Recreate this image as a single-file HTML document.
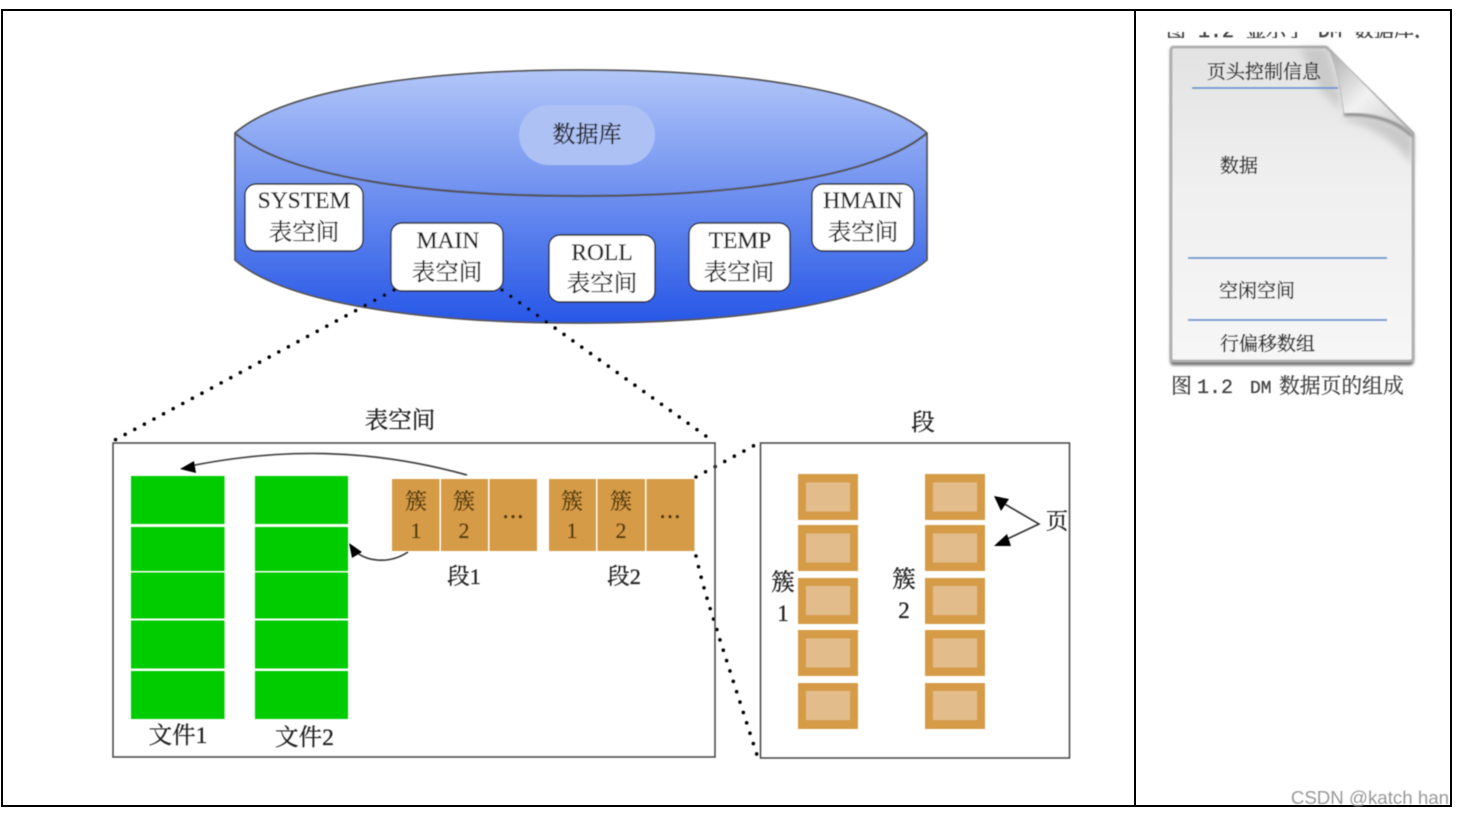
<!DOCTYPE html>
<html>
<head>
<meta charset="utf-8">
<style>
html,body{margin:0;padding:0;background:#fff;width:1464px;height:814px;overflow:hidden}
svg{display:block;position:absolute;left:0;top:0}
text{font-family:"Liberation Serif","Noto Serif CJK SC",serif;fill:#222;stroke:#222;stroke-width:.3;text-anchor:middle}
.m{font-family:"Liberation Mono","Noto Serif CJK SC",monospace;text-anchor:start;fill:#444;stroke:#444;stroke-width:.25}
.s{font-size:19px;text-anchor:start;fill:#333;stroke:#333;stroke-width:.4}
.o{fill:#4f390a;stroke:#4f390a;font-size:22px}
</style>
</head>
<body>
<svg width="1464" height="814" viewBox="0 0 1464 814">
<defs>
<linearGradient id="cy" x1="0" y1="0" x2="0" y2="1"><stop offset="0" stop-color="#b2c6f8"/><stop offset="1" stop-color="#2757e6"/></linearGradient>
<linearGradient id="pg" x1="0" y1="0" x2="0" y2="1"><stop offset="0" stop-color="#e2e2e2"/><stop offset=".45" stop-color="#f0f0f0"/><stop offset="1" stop-color="#f6f6f6"/></linearGradient>
<linearGradient id="fold" x1="0" y1="0" x2="1" y2="1"><stop offset="0" stop-color="#a8a8a8"/><stop offset=".5" stop-color="#f2f2f2"/><stop offset="1" stop-color="#c8c8c8"/></linearGradient>
<filter id="b" x="-2%" y="-2%" width="104%" height="104%"><feGaussianBlur stdDeviation="0.45"/></filter>
<filter id="b2" x="-10%" y="-10%" width="120%" height="120%"><feGaussianBlur stdDeviation="1.2"/></filter>
<filter id="b3" x="-30%" y="-30%" width="160%" height="160%"><feGaussianBlur stdDeviation="4"/></filter>
<clipPath id="topclip"><rect x="1160" y="32" width="280" height="6"/></clipPath>
</defs>

<g fill="none" stroke="#000" stroke-width="2">
<rect x="2" y="10" width="1449" height="796"/>
<line x1="1135" y1="10" x2="1135" y2="806"/>
</g>

<g filter="url(#b)">
<!-- cylinder -->
<path d="M235 133C285 90 420 70 581 70S877 90 927 133V260C877 303 742 323 581 323S285 303 235 260Z" fill="url(#cy)" stroke="#555" stroke-width="1.8"/>
<path d="M235 133C285 176 420 196 581 196S877 176 927 133" fill="none" stroke="#555" stroke-width="2.2"/>
<rect x="519" y="105" width="136" height="60" rx="30" fill="#adc1f5"/>
<text x="587" y="142" font-size="23">数据库</text>

<g fill="#fff" stroke="#222" stroke-width="1.4">
<rect x="245" y="184" width="118" height="67" rx="11"/>
<rect x="391" y="223" width="112" height="68" rx="11"/>
<rect x="549" y="235" width="106" height="67" rx="11"/>
<rect x="689" y="223" width="101" height="68" rx="11"/>
<rect x="812" y="184" width="102" height="67" rx="11"/>
</g>
<g font-size="23.5">
<text x="304" y="208">SYSTEM</text><text x="304" y="240">表空间</text>
<text x="448" y="248">MAIN</text><text x="447" y="280">表空间</text>
<text x="602" y="260">ROLL</text><text x="602" y="291">表空间</text>
<text x="740" y="248">TEMP</text><text x="739" y="280">表空间</text>
<text x="863" y="208">HMAIN</text><text x="863" y="240">表空间</text>
</g>

<!-- dotted connectors -->
<g fill="none" stroke="#000" stroke-width="3.6" stroke-linecap="round" stroke-dasharray="0 10.9">
<path d="M394 290L113 441"/>
<path d="M502 290L710 439"/>
<path d="M696 477L755 445"/>
<path d="M696 556C706 600 716 625 720 640L757 755"/>
</g>

<!-- tablespace -->
<text x="400" y="428" font-size="23.5">表空间</text>
<rect x="113" y="443" width="602" height="314" fill="none" stroke="#444" stroke-width="1.5"/>

<g fill="#00cc00">
<rect x="131" y="476" width="93.5" height="48"/><rect x="131" y="527" width="93.5" height="44"/><rect x="131" y="572.500" width="93.5" height="46"/><rect x="131" y="620.500" width="93.5" height="48"/><rect x="131" y="671" width="93.5" height="48"/>
<rect x="255" y="476" width="93" height="48"/><rect x="255" y="527" width="93" height="44"/><rect x="255" y="572.500" width="93" height="46"/><rect x="255" y="620.500" width="93" height="48"/><rect x="255" y="671" width="93" height="48"/>
</g>
<text x="178" y="743" font-size="23.5">文件1</text>
<text x="304.500" y="745" font-size="23.5">文件2</text>

<g fill="#d69b47">
<rect x="392" y="479" width="47.500" height="72"/><rect x="441" y="479" width="47" height="72"/><rect x="489.500" y="479" width="47.500" height="72"/>
<rect x="549" y="479" width="47" height="72"/><rect x="597.500" y="479" width="47.500" height="72"/><rect x="646.500" y="479" width="48" height="72"/>
</g>
<text class="o" x="416" y="509">簇</text><text class="o" x="416" y="538">1</text>
<text class="o" x="464" y="509">簇</text><text class="o" x="464" y="538">2</text>
<text class="o" x="513" y="518" style="stroke-width:.9">…</text>
<text class="o" x="572" y="509">簇</text><text class="o" x="572" y="538">1</text>
<text class="o" x="621" y="509">簇</text><text class="o" x="621" y="538">2</text>
<text class="o" x="670" y="518" style="stroke-width:.9">…</text>
<text x="464" y="584" font-size="22.500">段1</text>
<text x="624" y="584" font-size="22.500">段2</text>

<path d="M467 475C370 448 280 448 190 466" fill="none" stroke="#444" stroke-width="1.7"/>
<path d="M180 469L194 461L196 473Z" fill="#000"/>
<path d="M408 552C390 564 365 563 352 548" fill="none" stroke="#333" stroke-width="1.6"/>
<path d="M349 543L362 552L352 558Z" fill="#000"/>

<!-- segment -->
<text x="923" y="430" font-size="23.5">段</text>
<rect x="760.500" y="443" width="309" height="315" fill="none" stroke="#444" stroke-width="1.5"/>
<g fill="#d69b47">
<rect x="798" y="474" width="60" height="46"/><rect x="798" y="525" width="60" height="46"/><rect x="798" y="578" width="60" height="46"/><rect x="798" y="630" width="60" height="46"/><rect x="798" y="683" width="60" height="46"/>
<rect x="925" y="474" width="60" height="46"/><rect x="925" y="525" width="60" height="46"/><rect x="925" y="578" width="60" height="46"/><rect x="925" y="630" width="60" height="46"/><rect x="925" y="683" width="60" height="46"/>
</g>
<g fill="#e2bd8b">
<rect x="806" y="482.500" width="44" height="29"/><rect x="806" y="533.500" width="44" height="29"/><rect x="806" y="586" width="44" height="29"/><rect x="806" y="638.500" width="44" height="29"/><rect x="806" y="691" width="44" height="29"/>
<rect x="933" y="482.500" width="44" height="29"/><rect x="933" y="533.500" width="44" height="29"/><rect x="933" y="586" width="44" height="29"/><rect x="933" y="638.500" width="44" height="29"/><rect x="933" y="691" width="44" height="29"/>
</g>
<text x="783" y="590" font-size="23.500">簇</text><text x="783" y="621" font-size="23">1</text>
<text x="904" y="587" font-size="23.500">簇</text><text x="904" y="618" font-size="23">2</text>
<text x="1057" y="529" font-size="22.500">页</text>
<path d="M1003 503L1039 524L1003 541" fill="none" stroke="#333" stroke-width="1.6"/>
<path d="M994 496L1009 499L1001 511Z" fill="#000"/>
<path d="M994 546L1007 534L1011 546Z" fill="#000"/>

<!-- right panel -->
<g clip-path="url(#topclip)">
<text class="m" x="1166" y="37" font-size="20" style="stroke-width:.4;stroke:#333">图 1.2 显示了 DM 数据库，</text>
</g>

<path d="M1170 50Q1170 46 1174 46H1326L1414 133V359Q1414 364 1409 364H1174Q1170 364 1170 359Z" fill="#777" transform="translate(0 1.500)" filter="url(#b2)"/>
<path d="M1171 50Q1171 47 1174 47H1326L1413 133V358Q1413 361 1410 361H1174Q1171 361 1171 358Z" fill="url(#pg)" stroke="#b0b0b0" stroke-width="2.800"/>
<path d="M1345 116C1372 115 1398 122 1413 136V165C1395 140 1370 125 1345 120Z" fill="#bbb" opacity=".7" filter="url(#b3)"/>
<path d="M1300 47H1326C1336 70 1340 95 1342 112L1320 90Z" fill="#999" opacity=".35" filter="url(#b3)"/>
<path d="M1328 47C1340 75 1341 95 1344 114C1370 113 1398 120 1413 134Z" fill="url(#fold)" stroke="#bbb" stroke-width="1"/>
<path d="M1344 115C1372 113 1396 121 1412 136" fill="none" stroke="#808080" stroke-width="2.600" filter="url(#b2)"/>
<g stroke="#6f9bd0" stroke-width="2">
<line x1="1192" y1="88" x2="1338" y2="88"/>
<line x1="1188" y1="258" x2="1387" y2="258"/>
<line x1="1188" y1="320" x2="1387" y2="320"/>
</g>
<text class="s" x="1207" y="78">页头控制信息</text>
<text class="s" x="1220" y="172">数据</text>
<text class="s" x="1219" y="297">空闲空间</text>
<text class="s" x="1220" y="350">行偏移数组</text>
<text class="m" x="1171" y="393" font-size="21">图</text>
<text class="m" x="1197" y="393" font-size="20">1.2</text>
<text class="m" x="1250" y="393" font-size="18">DM</text>
<text class="m" x="1279" y="393" font-size="20.800">数据页的组成</text>

<text x="1449" y="804" font-size="18.700" style="font-family:'Liberation Sans',sans-serif;text-anchor:end;fill:#999;stroke:none">CSDN @katch han</text>
</g>
</svg>
</body>
</html>
